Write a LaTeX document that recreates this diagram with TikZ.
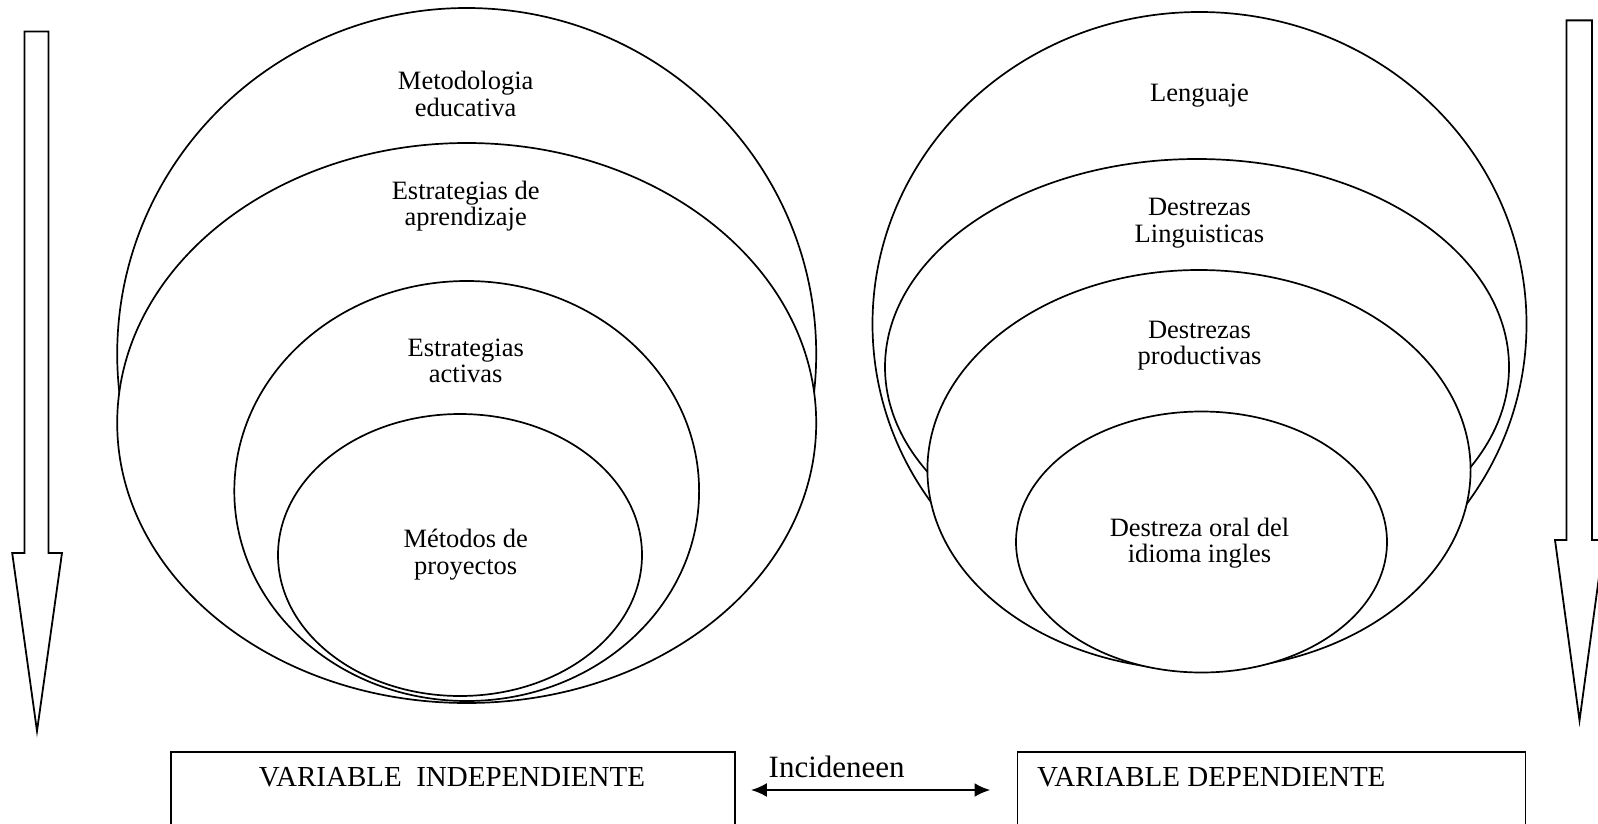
\documentclass[tikz,border=0pt]{standalone}
\usepackage{fontspec}
\setmainfont{Liberation Serif}
\usetikzlibrary{arrows.meta,positioning,calc}
\tikzstyle{ring} = [draw, fill=white, line width=1.7pt]
\tikzstyle{ringtext} = [align=center, inner sep=0pt, font=\fontsize{26.5}{26.5}\selectfont]
\tikzstyle{bigarrow} = [draw, line width=1.8pt, line join=miter]
\tikzstyle{varbox} = [draw, line width=1.8pt, minimum width=564pt, minimum height=120pt, anchor=north west]
\tikzstyle{vartext} = [inner sep=0pt, font=\fontsize{29}{29}\selectfont]
\tikzset{>={Latex[length=16pt,width=14pt]}}

\begin{document}
\begin{tikzpicture}[x=1pt,y=-1pt]
    \useasboundingbox (0,0) rectangle (1598,824);
    % down arrows
    \draw [bigarrow] (24.5,31.6) -- (48.5,31.6) -- (48.5,553) -- (62,553) -- (37,731) -- (12.2,553) -- (24.5,553) -- cycle;
    \draw [bigarrow] (1566.5,20.4) -- (1592,20.4) -- (1592,540) -- (1604,540) -- (1579.5,720.5) -- (1555,540) -- (1566.5,540) -- cycle;
    % independent rings
    \draw [ring] (466.7,354) ellipse [x radius=349.5pt, y radius=346pt];
    \draw [ring] (466.7,423) ellipse [x radius=349.5pt, y radius=280pt];
    \draw [ring] (466.7,491) ellipse [x radius=232.4pt, y radius=210pt];
    \draw [ring] (460,555) ellipse [x radius=182pt, y radius=141pt];
    % dependent rings
    \draw [ring] (1199.5,324) ellipse [x radius=327pt, y radius=312pt];
    \draw [ring] (1197,367) ellipse [x radius=312pt, y radius=208pt];
    \draw [ring] (1199,470) ellipse [x radius=271.6pt, y radius=200pt];
    \draw [ring] (1201.5,542) ellipse [x radius=185.5pt, y radius=130.5pt];
    % ring texts
    \node [ringtext] (metodologia) at (465.7,93.8) {Metodologia\\educativa};
    \node [ringtext] (aprendizaje) at (465.7,206) {Estrategias de\\aprendizaje};
    \node [ringtext] (activas) at (465.7,360.8) {Estrategias\\activas};
    \node [ringtext] (proyectos) at (465.7,554.4) {Métodos de\\proyectos};
    \node [ringtext] (lenguaje) at (1199.5,95.5) {Lenguaje};
    \node [ringtext] (linguisticas) at (1199.5,223) {Destrezas\\Linguisticas};
    \node [ringtext] (productivas) at (1199.5,345.5) {Destrezas\\productivas};
    \node [ringtext] (oral) at (1199.5,543) {Destreza oral del\\idioma ingles};
    % variables
    \node [varbox] (indep) at (170,751) {};
    \node [vartext] (indeptext) at (452,777.6) {VARIABLE\ \ INDEPENDIENTE};
    \node [varbox, minimum width=508pt] (dep) at (1016.5,751) {};
    \node [vartext, anchor=west] (deptext) at (1037,777.6) {VARIABLE DEPENDIENTE};
    \draw [<->, line width=2.6pt] ($(indep.north east)+(15,39)$) coordinate (incleft) -- ($(dep.north west)+(-26,39)$) coordinate (incright);
    \node [inner sep=0pt, font=\fontsize{31}{31}\selectfont] (incide) at (836.7,766.4) {Incideneen};
\end{tikzpicture}
\end{document}
